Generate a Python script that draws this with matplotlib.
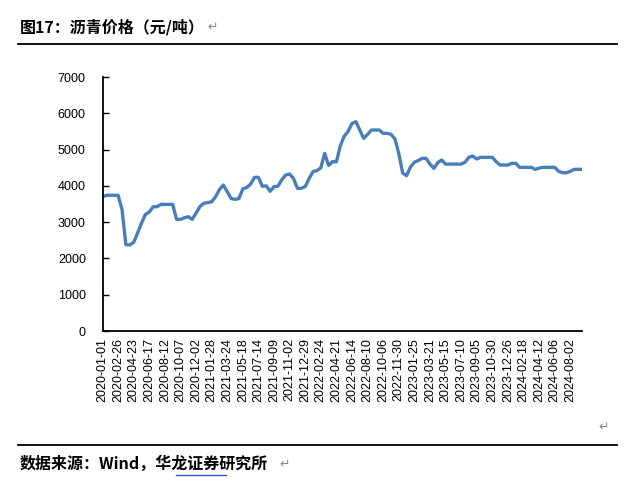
import matplotlib
matplotlib.use("Agg")
import matplotlib.pyplot as plt
import numpy as np

tick_labels = [
    "2020-01-01", "2020-02-26", "2020-04-23", "2020-06-17", "2020-08-12", "2020-10-07", "2020-12-02",
    "2021-01-28", "2021-03-24", "2021-05-18", "2021-07-14", "2021-09-09", "2021-11-02", "2021-12-29",
    "2022-02-24", "2022-04-21", "2022-06-14", "2022-08-10", "2022-10-06", "2022-11-30",
    "2023-01-25", "2023-03-21", "2023-05-15", "2023-07-10", "2023-09-05", "2023-10-30", "2023-12-26",
    "2024-02-18", "2024-04-12", "2024-06-06", "2024-08-02",
]
points_per_label = 4

prices = [
    3700, 3740, 3740, 3740, 3740, 3350, 2380, 2370, 2445, 2700,
    2970, 3210, 3280, 3425, 3425, 3490, 3490, 3490, 3490, 3077,
    3077, 3120, 3150, 3077, 3250, 3430, 3520, 3540, 3560, 3700,
    3900, 4023, 3840, 3650, 3628, 3650, 3920, 3955, 4050, 4235,
    4235, 3990, 4000, 3850, 3980, 3990, 4170, 4300, 4327, 4200,
    3932, 3932, 3980, 4200, 4395, 4420, 4500, 4896, 4560, 4666,
    4666, 5100, 5370, 5500, 5720, 5768, 5540, 5309, 5420, 5539,
    5539, 5539, 5447, 5447, 5420, 5300, 4896, 4350, 4280, 4520,
    4650, 4700, 4758, 4758, 4600, 4482, 4640, 4712, 4600, 4600,
    4600, 4600, 4600, 4650, 4790, 4820, 4740, 4786, 4786, 4786,
    4786, 4665, 4574, 4574, 4574, 4621, 4621, 4510, 4510, 4510,
    4510, 4455, 4490, 4510, 4510, 4510, 4510, 4400, 4362, 4362,
    4400, 4455, 4455, 4455,
]

W, H = 634, 487
fig = plt.figure(figsize=(W / 100, H / 100), dpi=100)
fig.patch.set_facecolor("white")

def fx(px):
    return px / W

def fy(py):
    return 1 - py / H

cjk = ["Noto Sans CJK SC", "DejaVu Sans"]

# Title and rules
fig.text(fx(20), fy(27), "图17：沥青价格（元/吨）", family=cjk, fontsize=11.5,
         fontweight="bold", va="center", ha="left", color="black")
fig.text(fx(207), fy(27), "↵", family=["DejaVu Sans"], fontsize=9, va="center",
         ha="left", color="#888888")
fig.add_artist(plt.Line2D([fx(18), fx(617)], [fy(43.5), fy(43.5)], color="black", lw=1.3))
fig.add_artist(plt.Line2D([fx(18), fx(617)], [fy(445), fy(445)], color="black", lw=1.3))
fig.text(fx(20), fy(464), "数据来源：Wind，华龙证券研究所", family=cjk, fontsize=11.5,
         fontweight="bold", va="center", ha="left", color="black")
fig.text(fx(279), fy(464), "↵", family=["DejaVu Sans"], fontsize=9, va="center",
         ha="left", color="#888888")
fig.add_artist(plt.Line2D([fx(176), fx(226)], [fy(474.5), fy(474.5)], color="#3355cc", lw=1.0))
fig.text(fx(598), fy(427), "↵", family=["DejaVu Sans"], fontsize=9, va="center",
         ha="left", color="#888888")

# Axes
left, right, top, bottom = 102.5, 582, 77, 331
ax = fig.add_axes([fx(left), fy(bottom), fx(right - left), (bottom - top) / H])
x = np.arange(len(prices))
ax.plot(x, prices, color="#4A7EBB", lw=2.4, solid_joinstyle="round")
ax.set_xlim(0, len(prices) - 1)
ax.set_ylim(0, 7000)
ax.set_yticks(np.arange(0, 7001, 1000))
ax.set_yticklabels([str(v) for v in range(0, 7001, 1000)], family="Liberation Sans", fontsize=9)
tick_pos = np.arange(len(tick_labels)) * points_per_label
ax.set_xticks(tick_pos)
ax.set_xticklabels(tick_labels, rotation=90, family="Liberation Sans", fontsize=9)
ax.tick_params(axis="y", direction="in", length=4, width=1, pad=12, colors="black")
ax.tick_params(axis="x", length=0, pad=5, colors="black")
for s in ["top", "right"]:
    ax.spines[s].set_visible(False)
for s in ["left", "bottom"]:
    ax.spines[s].set_linewidth(1.3)
    ax.spines[s].set_color("black")
ax.set_facecolor("white")

fig.savefig("out.png", dpi=100, facecolor="white")
